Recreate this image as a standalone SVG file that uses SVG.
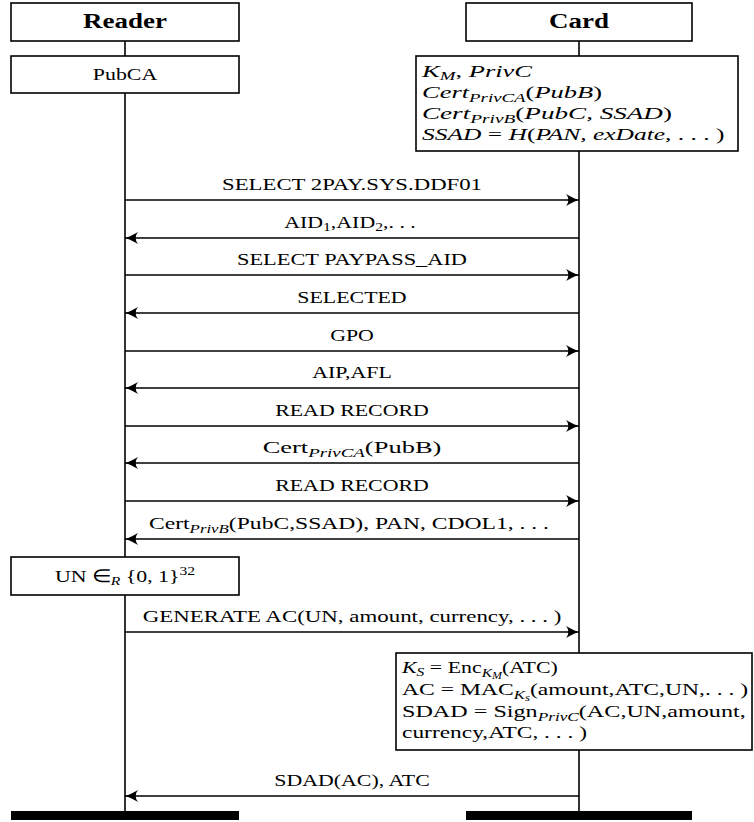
<svg xmlns="http://www.w3.org/2000/svg" width="754" height="822" viewBox="0 0 754 822">
<style>
.bx{fill:#fff;stroke:#000;stroke-width:1.6}
.ll{stroke:#000;stroke-width:1.6;fill:none}
.msg{stroke:#000;stroke-width:1.6;fill:none}
.r{marker-end:url(#ah)}
.bar{fill:#000}
text{font-family:"Liberation Serif","Times New Roman",serif;font-size:17.5px;fill:#000}
.h{font-weight:bold;font-size:20px}
.c{text-anchor:middle}
.i{font-style:italic}
.s{font-size:12.5px}
.ss{font-size:9.5px}
</style>
<defs>
<marker id="ah" markerUnits="userSpaceOnUse" markerWidth="16" markerHeight="14" viewBox="-14 -7 16 14" refX="0" refY="0" orient="auto">
<path d="M0,0 C-4,-1 -9,-3.5 -13,-6 C-10,-2.5 -10,2.5 -13,6 C-9,3.5 -4,1 0,0 Z" fill="#000"/>
</marker>
</defs>

<g id="lifelines">
<line class="ll" x1="125" y1="41" x2="125" y2="811"/>
<line class="ll" x1="579" y1="41" x2="579" y2="811"/>
</g>

<g id="reader">
<rect class="bx" x="11" y="3" width="228" height="38"/>
<text class="h c" transform="matrix(1.35 0 0 1 125 28)">Reader</text>
</g>
<g id="card">
<rect class="bx" x="466" y="3" width="226" height="38"/>
<text class="h c" transform="matrix(1.35 0 0 1 579 28)">Card</text>
</g>

<g id="reader-state">
<rect class="bx" x="11" y="56" width="228" height="37"/>
<text class="c" transform="matrix(1.25 0 0 1 125 80)">PubCA</text>
</g>

<g id="card-state">
<rect class="bx" x="416" y="56" width="322" height="95"/>
<text transform="matrix(1.25 0 0 1 422 77)" textLength="88" lengthAdjust="spacingAndGlyphs"><tspan class="i">K</tspan><tspan class="i s" dy="3">M</tspan><tspan dy="-3">, </tspan><tspan class="i">PrivC</tspan></text>
<text transform="matrix(1.25 0 0 1 422 98)" textLength="144" lengthAdjust="spacingAndGlyphs"><tspan class="i">Cert</tspan><tspan class="i s" dy="4">PrivCA</tspan><tspan dy="-4">(</tspan><tspan class="i">PubB</tspan>)</text>
<text transform="matrix(1.25 0 0 1 422 119)" textLength="200" lengthAdjust="spacingAndGlyphs"><tspan class="i">Cert</tspan><tspan class="i s" dy="4">PrivB</tspan><tspan dy="-4">(</tspan><tspan class="i">PubC, SSAD</tspan>)</text>
<text transform="matrix(1.25 0 0 1 422 140)" textLength="242" lengthAdjust="spacingAndGlyphs"><tspan class="i">SSAD</tspan> = <tspan class="i">H</tspan>(<tspan class="i">PAN, exDate, </tspan>. . . )</text>
</g>

<g id="connectors">
<line class="msg r" x1="125" y1="200" x2="579" y2="200"/>
<text class="c" transform="matrix(1.25 0 0 1 352 190)" textLength="208" lengthAdjust="spacingAndGlyphs">SELECT 2PAY.SYS.DDF01</text>

<line class="msg r" x1="579" y1="238" x2="125" y2="238"/>
<text class="c" transform="matrix(1.25 0 0 1 350 228)">AID<tspan class="s" dy="3">1</tspan><tspan dy="-3">,AID</tspan><tspan class="s" dy="3">2</tspan><tspan dy="-3">,. . .</tspan></text>

<line class="msg r" x1="125" y1="275" x2="579" y2="275"/>
<text class="c" transform="matrix(1.25 0 0 1 352 265)" textLength="184" lengthAdjust="spacingAndGlyphs">SELECT PAYPASS_AID</text>

<line class="msg r" x1="579" y1="313" x2="125" y2="313"/>
<text class="c" transform="matrix(1.25 0 0 1 352 303)">SELECTED</text>

<line class="msg r" x1="125" y1="351" x2="579" y2="351"/>
<text class="c" transform="matrix(1.25 0 0 1 352 341)">GPO</text>

<line class="msg r" x1="579" y1="388" x2="125" y2="388"/>
<text class="c" transform="matrix(1.25 0 0 1 352 378)">AIP,AFL</text>

<line class="msg r" x1="125" y1="426" x2="579" y2="426"/>
<text class="c" transform="matrix(1.25 0 0 1 352 416)">READ RECORD</text>

<line class="msg r" x1="579" y1="463" x2="125" y2="463"/>
<text class="c" transform="matrix(1.25 0 0 1 352 453)" textLength="143" lengthAdjust="spacingAndGlyphs">Cert<tspan class="i s" dy="4">PrivCA</tspan><tspan dy="-4">(PubB)</tspan></text>

<line class="msg r" x1="125" y1="501" x2="579" y2="501"/>
<text class="c" transform="matrix(1.25 0 0 1 352 491)">READ RECORD</text>

<line class="msg r" x1="579" y1="539" x2="125" y2="539"/>
<text class="c" transform="matrix(1.25 0 0 1 349 529)" textLength="320" lengthAdjust="spacingAndGlyphs">Cert<tspan class="i s" dy="4">PrivB</tspan><tspan dy="-4">(PubC,SSAD), PAN, CDOL1, . . .</tspan></text>

<line class="msg r" x1="125" y1="632" x2="579" y2="632"/>
<text class="c" transform="matrix(1.25 0 0 1 352 622)" textLength="335" lengthAdjust="spacingAndGlyphs">GENERATE AC(UN, amount, currency, . . . )</text>

<line class="msg r" x1="579" y1="796" x2="125" y2="796"/>
<text class="c" transform="matrix(1.25 0 0 1 352 786)">SDAD(AC), ATC</text>
</g>

<g id="reader-nonce">
<rect class="bx" x="11" y="557" width="228" height="38"/>
<text class="c" transform="matrix(1.25 0 0 1 125 582)">UN ∈<tspan class="i s" dy="3">R</tspan><tspan dy="-3"> {0, 1}</tspan><tspan class="s" dy="-7">32</tspan></text>
</g>

<g id="card-compute">
<rect class="bx" x="396" y="653" width="356" height="97"/>
<text transform="matrix(1.25 0 0 1 402 673)"><tspan class="i">K</tspan><tspan class="i s" dy="3">S</tspan><tspan dy="-3"> = Enc</tspan><tspan class="i s" dy="4">K</tspan><tspan class="i ss" dy="2">M</tspan><tspan dy="-6">(ATC)</tspan></text>
<text transform="matrix(1.25 0 0 1 402 695)" textLength="277" lengthAdjust="spacingAndGlyphs">AC = MAC<tspan class="i s" dy="4">K</tspan><tspan class="i ss" dy="2">s</tspan><tspan dy="-6">(amount,ATC,UN,. . . )</tspan></text>
<text transform="matrix(1.25 0 0 1 402 717)" textLength="275" lengthAdjust="spacingAndGlyphs">SDAD = Sign<tspan class="i s" dy="4">PrivC</tspan><tspan dy="-4">(AC,UN,amount,</tspan></text>
<text transform="matrix(1.25 0 0 1 402 738)" textLength="148" lengthAdjust="spacingAndGlyphs">currency,ATC, . . . )</text>
</g>

<g id="ends">
<rect class="bar" x="11" y="811" width="228" height="9"/>
<rect class="bar" x="466" y="811" width="226" height="9"/>
</g>
</svg>
